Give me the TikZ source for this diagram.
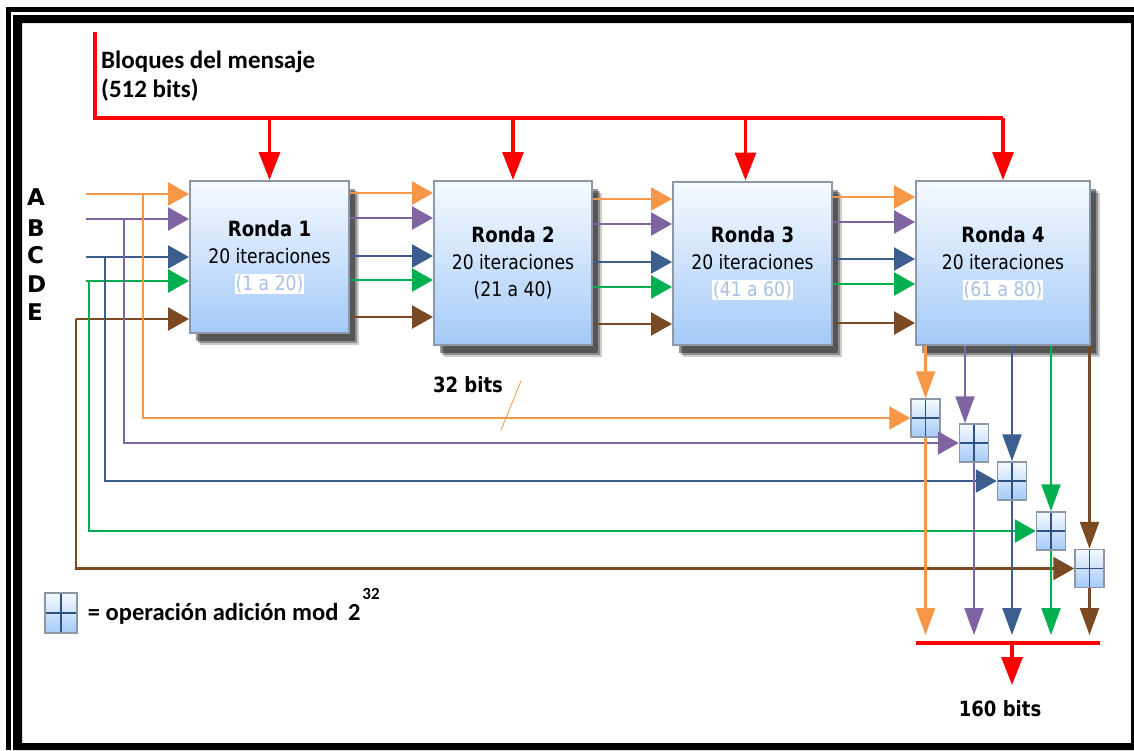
\documentclass[tikz,border=0pt]{standalone}
\usepackage{fontspec}
\newfontfamily\tahoma[FakeStretch=0.86]{DejaVu Sans}
\newfontfamily\verdana{DejaVu Sans}
\newfontfamily\calibri{Carlito}
\usetikzlibrary{arrows.meta,positioning,shadows}
\definecolor{aorange}{RGB}{247,150,70}
\definecolor{bpurple}{RGB}{128,100,162}
\definecolor{cblue}{RGB}{59,94,143}
\definecolor{dgreen}{RGB}{0,176,80}
\definecolor{ebrown}{RGB}{122,74,36}
\definecolor{pale}{RGB}{168,192,226}
\definecolor{boxtop}{RGB}{246,250,255}
\definecolor{boxbot}{RGB}{164,202,248}
\definecolor{boxline}{RGB}{140,152,168}
\definecolor{crossline}{RGB}{46,82,131}
\newcommand{\paletext}[1]{{\setlength{\fboxsep}{1pt}\colorbox{white}{\textcolor{pale}{#1}}}}
\newcommand{\rondatitle}[1]{{\fontsize{21}{27}\selectfont\bfseries #1}}
\tikzset{
    rondabox/.style={
        draw=boxline, line width=2pt,
        top color=boxtop, bottom color=boxbot,
        drop shadow={shadow xshift=10pt, shadow yshift=-12pt, fill=black, opacity=.2},
        drop shadow={shadow xshift=8pt, shadow yshift=-10pt, fill=black, opacity=.3},
        drop shadow={shadow xshift=6pt, shadow yshift=-8pt, fill=black, opacity=.4},
        align=center, inner sep=0pt,
        font=\tahoma\fontsize{20}{27}\selectfont
    },
    sumabox/.style={
        draw=boxline, line width=1.5pt,
        top color=boxtop, bottom color=boxbot,
        minimum width=29pt, minimum height=38pt, inner sep=0pt,
        path picture={
            \draw[crossline, line width=1.3pt]
            (path picture bounding box.north) -- (path picture bounding box.south)
            (path picture bounding box.west) -- (path picture bounding box.east);
        }
    },
    % flechas de colores
    harrow/.style={line width=2.4pt, -{Triangle[length=21pt, width=23pt]}},
    varrow/.style={line width=2.4pt, -{Triangle[length=27pt, width=19pt]}},
    redarrow/.style={line width=3.2pt, red, -{Triangle[length=28pt, width=21pt]}},
    redline/.style={line width=3.2pt, red},
    boldtext/.style={font=\tahoma\fontsize{21}{25}\selectfont\bfseries, inner sep=0pt},
    letter/.style={font=\verdana\fontsize{23}{25}\selectfont\bfseries, inner sep=0pt, anchor=west}
}
\begin{document}
\begin{tikzpicture}[x=1pt, y=-1pt]
        \useasboundingbox (0,0) rectangle (1134,750);
        \fill[white] (0,0) rectangle (1134,750);
        \fill[black] (6,7) rectangle (11,750);
        \fill[black] (6,7) rectangle (1134,12);
        \fill[black, even odd rule] (13,15) rectangle (1134,750) (22,23) rectangle (1131,743);

        % rondas
        \node[rondabox, minimum width=159pt, minimum height=152pt] (r1) at (269.5,257)
            {\rondatitle{Ronda 1}\\20 iteraciones\\\paletext{(1 a 20)}};
        \node[rondabox, minimum width=158pt, minimum height=164pt] (r2) at (513,263)
            {\rondatitle{Ronda 2}\\20 iteraciones\\(21 a 40)};
        \node[rondabox, minimum width=159pt, minimum height=163pt] (r3) at (752.5,263)
            {\rondatitle{Ronda 3}\\20 iteraciones\\\paletext{(41 a 60)}};
        \node[rondabox, minimum width=174pt, minimum height=164pt] (r4) at (1003,263)
            {\rondatitle{Ronda 4}\\20 iteraciones\\\paletext{(61 a 80)}};

        % sumas
        \node[sumabox] (s1) at (925.5,418) {};
        \node[sumabox] (s2) at (974,443) {};
        \node[sumabox] (s3) at (1012,481) {};
        \node[sumabox] (s4) at (1051,531) {};
        \node[sumabox] (s5) at (1089.5,568.5) {};

        \path
        (95,32) coordinate (m0)
        (95,118) coordinate (m1)
        (1003,118) coordinate (m2)
        (86,194) coordinate (A)
        (86,219) coordinate (B)
        (86,257) coordinate (C)
        (86,281) coordinate (D)
        (76,319) coordinate (E)
        (143,194) coordinate (a0)
        (124,219) coordinate (b0)
        (105,257) coordinate (c0)
        (89,281) coordinate (d0)
        (0,635) coordinate (ends)
        (916,643) coordinate (barl)
        (1100,643) coordinate (barr)
        (0,685) coordinate (out)
        ;

        % bloques del mensaje
        \draw[redline] (m0) |- (m2);
        \node[anchor=base west, inner sep=0pt, align=left,
              font=\calibri\fontsize{25}{29}\selectfont\bfseries] (msg) at (101,97)
            {Bloques del mensaje\\(512 bits)};
        \draw[redarrow] (r1.north |- m1) -- (r1.north);
        \draw[redarrow] (r2.north |- m1) -- (r2.north);
        \draw[redarrow] ([xshift=-7pt]r3.north |- m1) -- ([xshift=-7pt]r3.north);
        \draw[redarrow] (r4.north |- m1) -- (r4.north);

        % A B C D E
        \node[letter] (la) at (27,197) {A};
        \node[letter] (lb) at (27,228) {B};
        \node[letter] (lc) at (27,255) {C};
        \node[letter] (ld) at (27,284) {D};
        \node[letter] (le) at (27,312) {E};

        \draw[harrow, aorange] (A) -- (r1.west |- A);
        \draw[harrow, bpurple] (B) -- (r1.west |- B);
        \draw[harrow, cblue] (C) -- (r1.west |- C);
        \draw[harrow, dgreen] (D) -- (r1.west |- D);
        \draw[harrow, ebrown] (E) -- (r1.west |- E);

        \draw[harrow, aorange] (r1.east |- 0,193) -- (r2.west |- 0,193);
        \draw[harrow, bpurple] (r1.east |- 0,218) -- (r2.west |- 0,218);
        \draw[harrow, cblue] (r1.east |- 0,256) -- (r2.west |- 0,256);
        \draw[harrow, dgreen] (r1.east |- 0,280) -- (r2.west |- 0,280);
        \draw[harrow, ebrown] (r1.east |- 0,317) -- (r2.west |- 0,317);

        \draw[harrow, aorange] (r2.east |- 0,199) -- (r3.west |- 0,199);
        \draw[harrow, bpurple] (r2.east |- 0,224) -- (r3.west |- 0,224);
        \draw[harrow, cblue] (r2.east |- 0,262) -- (r3.west |- 0,262);
        \draw[harrow, dgreen] (r2.east |- 0,287) -- (r3.west |- 0,287);
        \draw[harrow, ebrown] (r2.east |- 0,324) -- (r3.west |- 0,324);

        \draw[harrow, aorange] (r3.east |- 0,197) -- (r4.west |- 0,197);
        \draw[harrow, bpurple] (r3.east |- 0,222) -- (r4.west |- 0,222);
        \draw[harrow, cblue] (r3.east |- 0,259) -- (r4.west |- 0,259);
        \draw[harrow, dgreen] (r3.east |- 0,284) -- (r4.west |- 0,284);
        \draw[harrow, ebrown] (r3.east |- 0,323) -- (r4.west |- 0,323);

        % ramas hacia las sumas
        \draw[harrow, aorange] (a0) |- (s1.west);
        \draw[harrow, bpurple] (b0) |- (s2.west);
        \draw[harrow, cblue] (c0) |- (s3.west);
        \draw[harrow, dgreen] (d0) |- (s4.west);
        \draw[harrow, ebrown] (E) |- (s5.west);

        \draw[aorange, line width=0.8pt] (521,381) -- (501,430);
        \node[boldtext] (bits32) at (468,385) {32 bits};

        % salidas de la ronda 4
        \draw[varrow, aorange] (s1.north |- r4.south) -- (s1.north);
        \draw[varrow, bpurple] ([xshift=-9pt]s2.north |- r4.south) -- ([xshift=-9pt]s2.north);
        \draw[varrow, cblue] (s3.north |- r4.south) -- (s3.north);
        \draw[varrow, dgreen] (s4.north |- r4.south) -- (s4.north);
        \draw[varrow, ebrown] (s5.north |- r4.south) -- (s5.north);

        \draw[varrow, aorange] (s1.south) -- (s1.south |- ends);
        \draw[varrow, bpurple] (s2.south) -- (s2.south |- ends);
        \draw[varrow, cblue] (s3.south) -- (s3.south |- ends);
        \draw[varrow, dgreen] (s4.south) -- (s4.south |- ends);
        \draw[varrow, ebrown] (s5.south) -- (s5.south |- ends);

        \draw[redline] (barl) -- (barr);
        \draw[redarrow] (s3.south |- barl) -- (s3.south |- out);
        \node[boldtext] (bits160) at (1000,709) {160 bits};

        % leyenda
        \node[sumabox, minimum width=32pt, minimum height=40pt] (key) at (61,613) {};
        \node[anchor=base west, inner sep=0pt, font=\calibri\fontsize{24.5}{28}\selectfont\bfseries] (keytext)
            at ([xshift=10pt]key.east |- 0,620)
            {= operación adición mod \,2\hspace{2pt}\raisebox{21pt}{\fontsize{17}{17}\selectfont 32}};
\end{tikzpicture}
\end{document}
